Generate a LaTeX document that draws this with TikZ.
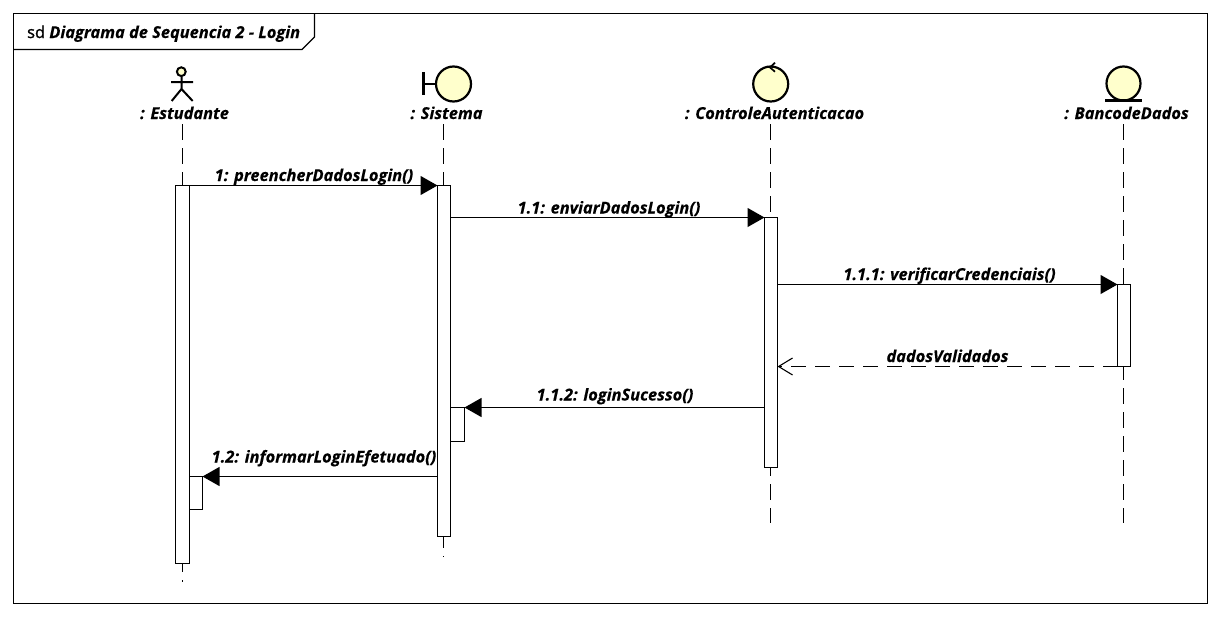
\documentclass[tikz,border=0pt]{standalone}
\usepackage{fontspec}
\setmainfont[BoldItalicFeatures={FakeBold=0.4}]{Open Sans}
\newfontfamily\sdfont[FakeBold=1.4]{Open Sans}
\usetikzlibrary{arrows.meta}
\definecolor{pale}{RGB}{255,255,204}
\tikzset{
  x=1pt,y=-1pt,
  act/.style={draw=black,line width=1.1pt,fill=white,inner sep=0pt,anchor=north,outer sep=0pt},
  selfact/.style={draw=black,line width=1.1pt,fill=white,inner sep=0pt,minimum width=14pt,minimum height=34pt,anchor=north west,outer sep=0pt},
  life/.style={line width=1.1pt,dash pattern=on 16pt off 8pt},
  msg/.style={line width=1.1pt,-{Triangle[length=17pt,width=19pt,black]},shorten >=0pt},
  ret/.style={line width=1.1pt,dash pattern=on 15pt off 9pt,-{Straight Barb[length=14pt,width=17pt,line width=1.1pt,black]}},
  mlabel/.style={font=\fontsize{16.4}{19}\selectfont\bfseries\itshape,inner sep=0pt,anchor=base},
  icon/.style={draw=black,line width=2.2pt,fill=pale,inner sep=0pt,outer sep=0pt,circle},
}
\begin{document}
\begin{tikzpicture}
\useasboundingbox (0,0) rectangle (1221,616);
\fill[white] (0,0) rectangle (1221,616);
\draw[line width=1.1pt] (13.5,13.5) rectangle (1207.5,603.5);
\draw[line width=1.1pt] (13.5,49.5) -- (302,49.5) -- (314.5,37) -- (314.5,13.5);
\node[mlabel,anchor=base west] (title) at (27,38) {{\sdfont\mdseries\upshape sd} Diagrama de Sequencia 2 - Login};
% heads
\node[mlabel] (hE) at (184.5,119) {: Estudante};
\node[mlabel] (hS) at (446.5,119) {: Sistema};
\node[mlabel] (hC) at (774.5,119) {: ControleAutenticacao};
\node[mlabel] (hB) at (1126.5,119) {: BancodeDados};
% lifeline anchors
\coordinate (tE) at (182.5,124); \coordinate (tS) at (443.5,124);
\coordinate (tC) at (770.5,124); \coordinate (tB) at (1123.5,124);
\coordinate (eC) at (770.5,523); \coordinate (eB) at (1123.5,523);
\coordinate (eS) at (443.5,557); \coordinate (eE) at (182.5,582);
% lifelines
\draw[life] (tE) -- (eE);
\draw[life] (tS) -- (eS);
\draw[life] (tC) -- (eC);
\draw[life] (tB) -- (eB);
% activations
\node[act,minimum width=14pt,minimum height=378pt] (aE) at (182.5,185.5) {};
\node[act,minimum width=13pt,minimum height=351pt] (aS) at (444,185.5) {};
\node[act,minimum width=13pt,minimum height=250pt] (aC) at (771,217.5) {};
\node[act,minimum width=13pt,minimum height=82pt] (aB) at (1124,284.5) {};
\node[selfact] (sS) at (450.5,407.5) {};
\node[selfact,minimum width=13pt,minimum height=33pt] (sE) at (189.5,476.5) {};
% actor
\draw[line width=2pt,fill=pale] (181.3,71.7) circle (4.4);
\draw[line width=2pt] (181.5,76.5) -- (181.5,89) (171,82) -- (193,82) (171.7,101) -- (181.5,89) -- (192.7,101);
% boundary
\node[icon,minimum size=35pt] (bd) at (453.5,84) {};
\draw[line width=2.2pt] (423.5,72) -- (423.5,95) (423.5,84) -- (bd.west);
% control
\node[icon,minimum size=35pt] (ct) at (770.7,84) {};
\draw[line width=1.7pt] (775,62.7) -- (770,67.5) -- (775,71.7);
% entity
\node[icon,minimum size=34pt] (en) at (1123.5,83.5) {};
\draw[line width=2.2pt] (1105,100.5) -- (1142,100.5);
% messages
\draw[msg] (aE.north east) -- (aS.north west);
\node[mlabel] (m1) at (314,181) {1: preencherDadosLogin()};
\coordinate (y2) at (0,217.5); \draw[msg] (aS.east |- y2) -- (aC.north west);
\node[mlabel] (m2) at (609,213.5) {1.1: enviarDadosLogin()};
\coordinate (y3) at (0,284.5); \draw[msg] (aC.east |- y3) -- (aB.north west);
\node[mlabel] (m3) at (949.5,280) {1.1.1: verificarCredenciais()};
\draw[ret] (aB.south west) -- (aC.east |- aB.south);
\node[mlabel] (m4) at (947.5,362) {dadosValidados};
\coordinate (y5) at (0,407.5); \draw[msg] (aC.west |- y5) -- (sS.north east);
\node[mlabel] (m5) at (615,400.5) {1.1.2: loginSucesso()};
\coordinate (y6) at (0,476.5); \draw[msg] (aS.west |- y6) -- (sE.north east);
\node[mlabel] (m6) at (324,462.5) {1.2: informarLoginEfetuado()};
\end{tikzpicture}
\end{document}
